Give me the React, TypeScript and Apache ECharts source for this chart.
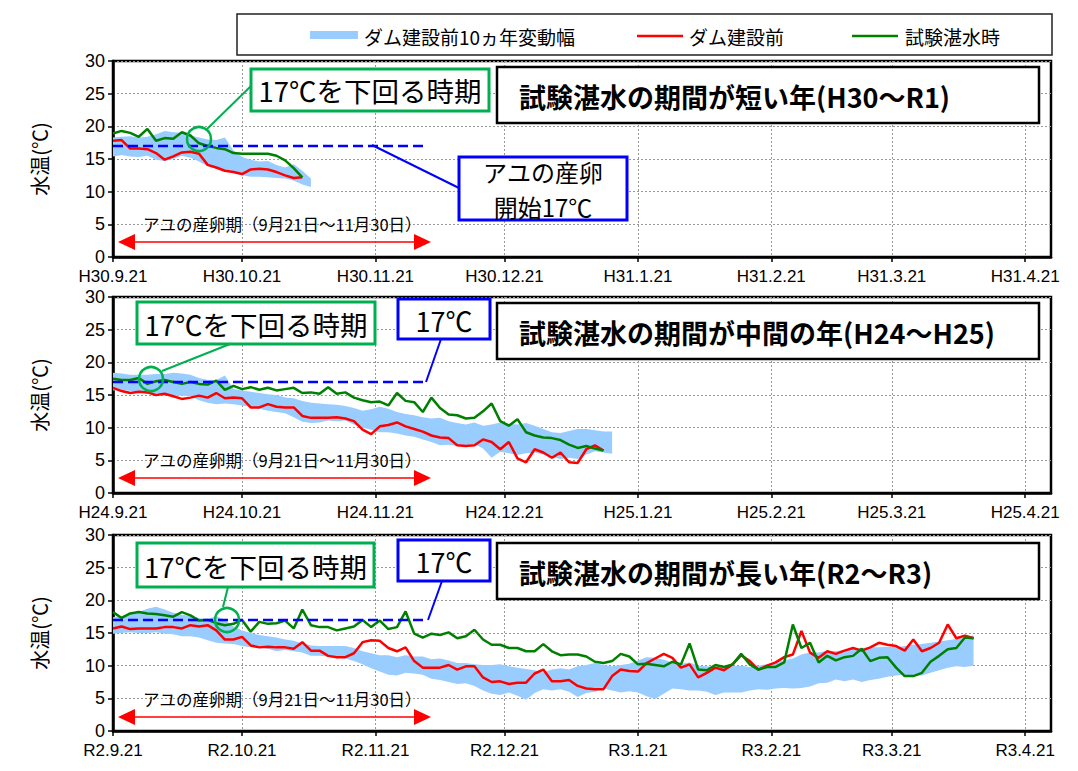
import React, { useEffect, useRef } from "react";
import * as echarts from "echarts";

// ---------- axis / tick data ----------
const STEP_DAYS = 2; // sampling interval (days since 9/21)
const TICK_DAYS = [0, 30, 61, 91, 122, 153, 181, 212];
const AXIS_MAX_DAY = 218;
const Y_MIN = 0;
const Y_MAX = 30;
const Y_STEP = 5;
const SPAWN_TEMP = 17;
const SPAWN_LINE_END_DAY = 73;

const LABELS_H30 = ["H30.9.21", "H30.10.21", "H30.11.21", "H30.12.21", "H31.1.21", "H31.2.21", "H31.3.21", "H31.4.21"];
const LABELS_H24 = ["H24.9.21", "H24.10.21", "H24.11.21", "H24.12.21", "H25.1.21", "H25.2.21", "H25.3.21", "H25.4.21"];
const LABELS_R2 = ["R2.9.21", "R2.10.21", "R2.11.21", "R2.12.21", "R3.1.21", "R3.2.21", "R3.3.21", "R3.4.21"];

const SERIES_NAMES = ["ダム建設前10ヵ年変動幅", "ダム建設前", "試験湛水時"];
const PANEL_TITLES = [
  "試験湛水の期間が短い年(H30～R1)",
  "試験湛水の期間が中間の年(H24～H25)",
  "試験湛水の期間が長い年(R2～R3)",
];
const SPAWN_PERIOD_TEXT = "アユの産卵期（9月21日～11月30日）";
const BELOW17_TEXT = "17℃を下回る時期";
const SPAWN_START_LINES = ["アユの産卵", "開始17℃"];
const TEMP17_TEXT = "17℃";
const Y_NAME = "水温(℃)";

// ---------- panel 1 : H30～R1 ----------
const P1_GREEN = [18.9, 19.3, 19.0, 18.4, 19.6, 17.8, 18.2, 18.1, 19.1, 18.6, 17.4, 17.0, 16.7, 16.5, 15.9, 15.8, 15.8, 15.8, 15.8, 15.5, 14.8, 13.6, 12.2];
const P1_RED = [17.8, 17.9, 16.6, 16.6, 16.5, 15.9, 14.9, 15.4, 16.0, 16.1, 15.8, 14.1, 13.7, 13.2, 13.0, 12.7, 13.4, 13.5, 13.4, 13.0, 12.5, 12.1, 12.2];
const P1_HIGH = [18.3, 18.4, 18.5, 18.3, 18.4, 18.8, 19.3, 19.1, 19.0, 18.6, 18.3, 18.0, 17.9, 18.3, 16.3, 15.3, 14.9, 14.6, 14.7, 14.1, 13.7, 14.2, 13.2, 12.0];
const P1_LOW = [15.4, 15.6, 15.4, 15.3, 15.5, 14.9, 14.7, 15.0, 15.5, 15.2, 14.6, 13.9, 13.5, 13.2, 12.8, 12.5, 12.3, 12.3, 12.2, 12.1, 12.0, 11.7, 11.1, 10.7];

// ---------- panel 2 : H24～H25 ----------
const P2_GREEN = [
  17.5, 17.3, 17.3, 17.6, 16.7, 17.1, 17.3, 17.0, 16.7, 17.0, 16.7, 16.6, 17.2, 15.8, 16.4, 15.9, 16.2, 15.8, 16.1, 15.7, 15.9, 16.1, 15.3, 15.4, 15.2, 16.2, 15.2, 15.4, 14.6, 14.2, 13.9,
  14.0, 13.4, 15.3, 14.1, 13.9, 12.4, 14.6, 13.0, 12.0, 11.9, 11.4, 11.5, 12.5, 13.7, 11.0, 10.3, 11.3, 9.3, 8.8, 8.5, 8.4, 8.1, 7.4, 6.9, 7.2, 6.8, 6.5,
];
const P2_RED = [
  16.1, 15.6, 15.3, 15.5, 15.4, 15.0, 15.2, 14.8, 14.4, 14.6, 14.9, 14.6, 15.3, 14.5, 14.6, 14.5, 13.1, 13.1, 13.6, 13.2, 13.1, 13.1, 11.8, 11.5, 11.5, 11.5, 11.6, 11.4, 11.0, 9.7, 9.0,
  10.2, 10.4, 10.8, 10.2, 9.8, 9.4, 8.8, 8.5, 8.4, 7.3, 7.2, 7.3, 8.2, 7.8, 6.7, 7.8, 5.3, 4.7, 6.7, 6.2, 5.4, 6.2, 4.7, 4.6, 6.7, 7.3, 6.5,
];
const P2_HIGH = [
  18.4, 18.3, 18.1, 18.1, 18.1, 18.2, 18.2, 18.4, 18.3, 18.1, 17.6, 17.3, 17.3, 18.0, 15.9, 15.7, 15.5, 15.3, 15.1, 15.0, 14.6, 14.5, 14.1, 13.8, 13.7, 13.6, 13.5, 13.3, 13.0, 12.6, 12.8,
  13.2, 12.9, 12.4, 12.1, 11.9, 11.6, 11.4, 11.5, 11.0, 10.7, 10.5, 10.8, 10.3, 10.5, 10.8, 10.6, 10.5, 10.7, 10.3, 9.8, 9.3, 9.2, 9.5, 9.8, 9.8, 9.6, 9.4, 9.4,
];
const P2_LOW = [
  15.7, 15.8, 15.6, 15.6, 15.2, 15.3, 15.2, 14.9, 14.9, 14.8, 14.2, 13.8, 13.6, 13.7, 13.6, 13.4, 13.2, 12.9, 12.6, 12.4, 12.2, 11.6, 10.9, 10.7, 10.8, 11.1, 11.0, 11.1, 10.5, 10.0, 9.7,
  9.3, 9.3, 9.1, 8.8, 8.6, 8.2, 7.8, 7.3, 7.4, 7.2, 7.3, 7.5, 6.8, 5.4, 6.3, 6.1, 5.8, 6.1, 6.2, 5.9, 5.5, 5.2, 5.4, 5.2, 5.9, 6.4, 6.2, 6.0,
];

// ---------- panel 3 : R2～R3 ----------
const P3_GREEN = [
  18.2, 17.3, 18.0, 18.2, 18.0, 17.9, 17.7, 17.5, 18.2, 17.7, 16.9, 17.0, 16.5, 16.2, 16.4, 17.0, 15.2, 16.7, 16.4, 16.5, 16.9, 15.7, 18.6, 16.2, 15.9, 15.9, 15.4, 15.7, 16.0, 17.0, 15.9, 16.9, 15.6, 15.9,
  18.3, 14.9, 14.3, 14.9, 14.7, 15.1, 14.2, 14.5, 15.5, 14.0, 13.2, 13.2, 12.7, 12.7, 12.2, 12.2, 13.3, 12.2, 11.6, 11.7, 11.7, 11.4, 10.6, 10.4, 10.7, 11.8, 11.4, 10.2, 10.3, 10.1, 9.9, 10.6, 10.2, 13.4,
  9.4, 9.3, 10.1, 9.8, 10.2, 11.8, 10.2, 9.4, 9.8, 9.8, 10.5, 16.3, 12.7, 13.5, 10.5, 11.5, 10.8, 11.3, 11.5, 12.6, 10.7, 11.2, 11.3, 9.7, 8.4, 8.4, 8.9, 10.6, 11.5, 12.5, 12.7, 14.3, 14.2,
];
const P3_RED = [
  15.7, 16.0, 15.6, 15.7, 15.7, 15.7, 15.9, 15.9, 15.7, 16.2, 16.0, 16.2, 15.4, 14.0, 14.0, 14.4, 13.1, 12.8, 12.9, 12.8, 12.8, 12.6, 13.6, 12.3, 12.3, 11.5, 11.3, 11.3, 11.9, 13.6, 13.9, 13.8, 12.7, 12.2,
  12.8, 10.7, 9.7, 9.7, 9.7, 10.1, 9.4, 9.9, 9.9, 8.2, 7.5, 7.6, 7.2, 7.4, 7.4, 8.8, 9.4, 7.6, 7.6, 7.8, 6.9, 6.5, 6.4, 6.4, 8.4, 9.4, 9.2, 9.1, 10.4, 11.1, 11.8, 11.2, 9.7, 10.2,
  8.2, 8.9, 9.7, 9.3, 10.2, 11.6, 10.7, 9.4, 10.0, 10.5, 11.3, 11.7, 15.3, 12.0, 11.2, 12.2, 11.8, 12.3, 12.7, 12.3, 12.8, 13.5, 13.2, 13.0, 12.3, 14.0, 12.2, 12.7, 13.5, 16.3, 14.2, 14.6, 14.2,
];
const P3_HIGH = [
  17.4, 17.6, 17.9, 18.2, 18.7, 19.0, 18.6, 18.1, 17.8, 17.6, 17.3, 17.1, 17.6, 17.0, 16.0, 15.4, 15.0, 14.7, 14.5, 14.3, 14.0, 13.8, 13.4, 13.1, 13.0, 13.0, 13.0, 13.0, 12.7, 12.2, 11.9, 11.6, 11.6, 11.3,
  11.6, 11.4, 11.4, 11.0, 11.1, 10.8, 10.4, 10.4, 10.2, 10.1, 10.1, 10.2, 9.9, 9.7, 9.5, 9.3, 9.0, 9.4, 9.6, 9.4, 9.9, 10.1, 10.4, 10.1, 9.9, 10.1, 10.3, 10.8, 11.3, 11.2, 10.9, 10.5, 10.3, 10.5,
  10.0, 9.9, 9.8, 9.9, 9.9, 10.0, 9.8, 10.0, 10.2, 10.5, 10.8, 11.1, 11.7, 12.0, 12.0, 12.3, 12.2, 12.4, 12.6, 12.7, 12.8, 12.8, 12.9, 12.8, 13.0, 13.2, 13.3, 13.5, 13.7, 13.9, 14.1, 14.4, 14.6,
];
const P3_LOW = [
  14.9, 15.0, 15.1, 15.0, 15.0, 15.1, 14.9, 14.8, 14.5, 14.5, 14.3, 13.9, 13.5, 13.4, 13.3, 13.0, 12.8, 12.8, 12.6, 12.2, 12.4, 12.2, 12.0, 11.5, 11.5, 11.4, 11.3, 11.1, 10.7, 10.2, 9.6, 9.1, 8.6, 8.5,
  8.9, 8.8, 8.6, 8.0, 7.8, 7.5, 7.2, 7.3, 6.9, 6.2, 5.7, 5.5, 5.9, 5.4, 4.8, 5.8, 6.4, 6.2, 6.4, 6.0, 5.2, 5.8, 6.0, 6.5, 6.2, 5.9, 6.1, 5.9, 5.3, 4.9, 5.7, 6.5, 6.4, 6.2,
  6.2, 6.0, 5.5, 5.9, 5.9, 5.9, 6.2, 6.4, 6.3, 6.5, 6.6, 6.5, 6.6, 6.8, 7.3, 7.4, 7.9, 7.6, 7.9, 7.5, 7.8, 8.0, 8.3, 8.5, 8.6, 8.4, 8.5, 8.9, 9.3, 9.7, 9.9, 9.8, 10.0,
];

// ---------- styles / layout ----------
const FONT = '"Noto Sans CJK JP", "Noto Sans", sans-serif';
const TICK_FONT = '"Liberation Sans", Arial, sans-serif';
const BAND_COLOR = "#99ccff";
const RED = "#ff0000";
const GREEN_LINE = "#008000";
const GREEN_ANN = "#00b050";
const BLUE = "#0000ff";
const GRID_LEFT = 113;
const GRID_WIDTH = 938;
const GRID_HEIGHT = 196;
const GRID_TOPS = [61, 297, 535];

const PANELS = [
  { labels: LABELS_H30, green: P1_GREEN, red: P1_RED, high: P1_HIGH, low: P1_LOW, title: PANEL_TITLES[0] },
  { labels: LABELS_H24, green: P2_GREEN, red: P2_RED, high: P2_HIGH, low: P2_LOW, title: PANEL_TITLES[1] },
  { labels: LABELS_R2, green: P3_GREEN, red: P3_RED, high: P3_HIGH, low: P3_LOW, title: PANEL_TITLES[2] },
];

function toPoints(values: number[]) {
  return values.map((v, i) => [i * STEP_DAYS, v]);
}

function textEl(x: number, y: number, text: string, size: number, opts: any = {}) {
  return {
    type: "text",
    z: 110,
    style: {
      x,
      y,
      text,
      fill: "#000",
      font: `${opts.bold ? "bold " : ""}${size}px ${FONT}`,
      textAlign: opts.align || "left",
      textVerticalAlign: "middle",
      verticalAlign: "middle",
    },
  };
}

function rectEl(x: number, y: number, w: number, h: number, stroke: string, lw: number) {
  return { type: "rect", z: 100, shape: { x, y, width: w, height: h }, style: { fill: "#fff", stroke, lineWidth: lw } };
}

function lineEl(x1: number, y1: number, x2: number, y2: number, stroke: string, lw: number) {
  return { type: "line", z: 100, shape: { x1, y1, x2, y2 }, style: { stroke, lineWidth: lw } };
}

function arrowEls(x1: number, x2: number, y: number) {
  return [
    lineEl(x1 + 14, y, x2 - 14, y, RED, 1.5),
    { type: "polygon", z: 100, shape: { points: [[x1, y], [x1 + 17, y - 8], [x1 + 17, y + 8]] }, style: { fill: RED } },
    { type: "polygon", z: 100, shape: { points: [[x2, y], [x2 - 17, y - 8], [x2 - 17, y + 8]] }, style: { fill: RED } },
  ];
}

function buildGraphics() {
  const g: any[] = [];
  // legend box
  g.push({ type: "rect", z: 100, shape: { x: 237, y: 14, width: 815, height: 41 }, style: { fill: "#fff", stroke: "#222", lineWidth: 1.5 } });
  g.push({ type: "rect", z: 101, shape: { x: 310, y: 31, width: 48, height: 8 }, style: { fill: BAND_COLOR } });
  g.push(textEl(364, 36, SERIES_NAMES[0], 19));
  g.push(lineEl(637, 36, 683, 36, RED, 2.5));
  g.push(textEl(689, 36, SERIES_NAMES[1], 19));
  g.push(lineEl(852, 36, 898, 36, GREEN_LINE, 2.5));
  g.push(textEl(905, 36, SERIES_NAMES[2], 19));

  // ----- panel 1 annotations -----
  g.push(lineEl(251, 86, 207, 129, GREEN_ANN, 2));
  g.push(rectEl(251, 69, 238, 42, GREEN_ANN, 3));
  g.push(textEl(370, 90, BELOW17_TEXT, 27.5, { align: "center" }));
  g.push({ type: "circle", z: 100, shape: { cx: 199, cy: 139, r: 12 }, style: { fill: "transparent", stroke: GREEN_ANN, lineWidth: 2.5 } });
  g.push(lineEl(372, 145, 459, 188, BLUE, 2));
  g.push(rectEl(459, 157, 168, 63, BLUE, 3));
  g.push(textEl(543, 171, SPAWN_START_LINES[0], 24, { align: "center" }));
  g.push(textEl(543, 206, SPAWN_START_LINES[1], 24, { align: "center" }));

  // ----- panel 2 & 3 annotations -----
  const p23 = [
    { greenBox: [137, 302, 238, 42], gLine: [230, 344, 162, 371], circle: [151, 379], blueBox: [398, 299, 92, 40], bLine: [441, 339, 426, 382] },
    { greenBox: [137, 543, 237, 44], gLine: [228, 587, 223, 607], circle: [227, 620], blueBox: [398, 540, 92, 41], bLine: [442, 581, 428, 620] },
  ];
  p23.forEach((p) => {
    g.push(lineEl(p.gLine[0], p.gLine[1], p.gLine[2], p.gLine[3], GREEN_ANN, 2));
    g.push(rectEl(p.greenBox[0], p.greenBox[1], p.greenBox[2], p.greenBox[3], GREEN_ANN, 3));
    g.push(textEl(p.greenBox[0] + p.greenBox[2] / 2, p.greenBox[1] + p.greenBox[3] / 2 + 1, BELOW17_TEXT, 27.5, { align: "center" }));
    g.push({ type: "circle", z: 100, shape: { cx: p.circle[0], cy: p.circle[1], r: 12 }, style: { fill: "transparent", stroke: GREEN_ANN, lineWidth: 2.5 } });
    g.push(lineEl(p.bLine[0], p.bLine[1], p.bLine[2], p.bLine[3], BLUE, 2));
    g.push(rectEl(p.blueBox[0], p.blueBox[1], p.blueBox[2], p.blueBox[3], BLUE, 3));
    g.push(textEl(p.blueBox[0] + p.blueBox[2] / 2, p.blueBox[1] + p.blueBox[3] / 2 + 1, TEMP17_TEXT, 27, { align: "center" }));
  });

  // ----- titles and spawning arrows -----
  const titleTops = [67, 303, 543];
  const arrowYs = [242, 478, 717];
  PANELS.forEach((p, k) => {
    g.push(rectEl(497, titleTops[k], 542, 56, "#000", 2.5));
    g.push(textEl(519, titleTops[k] + 29, p.title, 27, { bold: true }));
    arrowEls(118, 431, arrowYs[k]).forEach((e) => g.push(e));
    g.push(textEl(143, arrowYs[k] - 18, SPAWN_PERIOD_TEXT, 16.5));
  });
  return g;
}

function buildOption() {
  const grid = GRID_TOPS.map((top) => ({
    left: GRID_LEFT,
    top,
    width: GRID_WIDTH,
    height: GRID_HEIGHT,
    show: true,
    borderColor: "#000",
    borderWidth: 2.5,
    backgroundColor: "transparent",
  }));

  const xAxis = PANELS.map((p, k) => ({
    type: "value",
    gridIndex: k,
    min: 0,
    max: AXIS_MAX_DAY,
    axisLine: { show: true, lineStyle: { color: "#000", width: 2.5 } },
    axisTick: { show: true, customValues: TICK_DAYS, length: 5, lineStyle: { color: "#000", width: 1.5 } },
    axisLabel: {
      customValues: TICK_DAYS,
      formatter: (v: number) => {
        const idx = TICK_DAYS.indexOf(Math.round(v));
        return idx >= 0 ? p.labels[idx] : "";
      },
      color: "#000",
      fontSize: 17,
      lineHeight: 17,
      fontFamily: TICK_FONT,
      margin: 11,
    },
    splitLine: { show: true, lineStyle: { color: "#999", width: 1, type: [2, 2] } },
  }));

  const yAxis = PANELS.map((_, k) => ({
    type: "value",
    gridIndex: k,
    min: Y_MIN,
    max: Y_MAX,
    interval: Y_STEP,
    name: Y_NAME,
    nameLocation: "middle",
    nameRotate: 90,
    nameGap: 64,
    nameTextStyle: { color: "#000", fontSize: 20, fontFamily: FONT },
    axisLine: { show: true, lineStyle: { color: "#000", width: 2.5 } },
    axisTick: { show: true, length: 5, lineStyle: { color: "#000", width: 1.5 } },
    axisLabel: { color: "#000", fontSize: 18, lineHeight: 17, fontFamily: TICK_FONT, margin: 8 },
    splitLine: { show: true, lineStyle: { color: "#999", width: 1, type: [2, 2] } },
  }));

  const series: any[] = [];
  PANELS.forEach((p, k) => {
    const n = Math.min(p.high.length, p.low.length);
    series.push({
      type: "custom",
      name: SERIES_NAMES[0],
      xAxisIndex: k,
      yAxisIndex: k,
      z: 1,
      silent: true,
      data: p.high.slice(0, n).map((h, i) => [i * STEP_DAYS, p.low[i], h]),
      encode: { x: 0, y: [1, 2] },
      renderItem: (params: any, api: any) => {
        if (params.dataIndex !== 0) return null;
        const pts: number[][] = [];
        for (let i = 0; i < n; i++) pts.push(api.coord([i * STEP_DAYS, p.high[i]]));
        for (let i = n - 1; i >= 0; i--) pts.push(api.coord([i * STEP_DAYS, p.low[i]]));
        return { type: "polygon", shape: { points: pts }, style: { fill: BAND_COLOR } };
      },
    });
    series.push({
      type: "line",
      name: SERIES_NAMES[1],
      xAxisIndex: k,
      yAxisIndex: k,
      z: 3,
      symbol: "none",
      data: toPoints(p.red),
      lineStyle: { color: RED, width: 2.5 },
    });
    series.push({
      type: "line",
      name: SERIES_NAMES[2],
      xAxisIndex: k,
      yAxisIndex: k,
      z: 4,
      symbol: "none",
      data: toPoints(p.green),
      lineStyle: { color: GREEN_LINE, width: 2.5 },
    });
    series.push({
      type: "line",
      name: "17℃",
      xAxisIndex: k,
      yAxisIndex: k,
      z: 5,
      symbol: "none",
      data: [
        [0, SPAWN_TEMP],
        [SPAWN_LINE_END_DAY, SPAWN_TEMP],
      ],
      lineStyle: { color: BLUE, width: 2.5, type: [10, 5] },
    });
  });

  return {
    animation: false,
    backgroundColor: "#fff",
    textStyle: { fontFamily: FONT },
    grid,
    xAxis,
    yAxis,
    series,
    graphic: { elements: buildGraphics() },
  };
}

export default function App() {
  const ref = useRef<HTMLDivElement>(null);
  useEffect(() => {
    if (!ref.current) return;
    const chart = echarts.init(ref.current, undefined, { renderer: "svg" });
    chart.setOption(buildOption() as any);
    return () => chart.dispose();
  }, []);
  return (
    <div
      ref={ref}
      style={{ position: "absolute", left: 0, top: 0, width: 1078, height: 771, background: "#fff" }}
    />
  );
}
